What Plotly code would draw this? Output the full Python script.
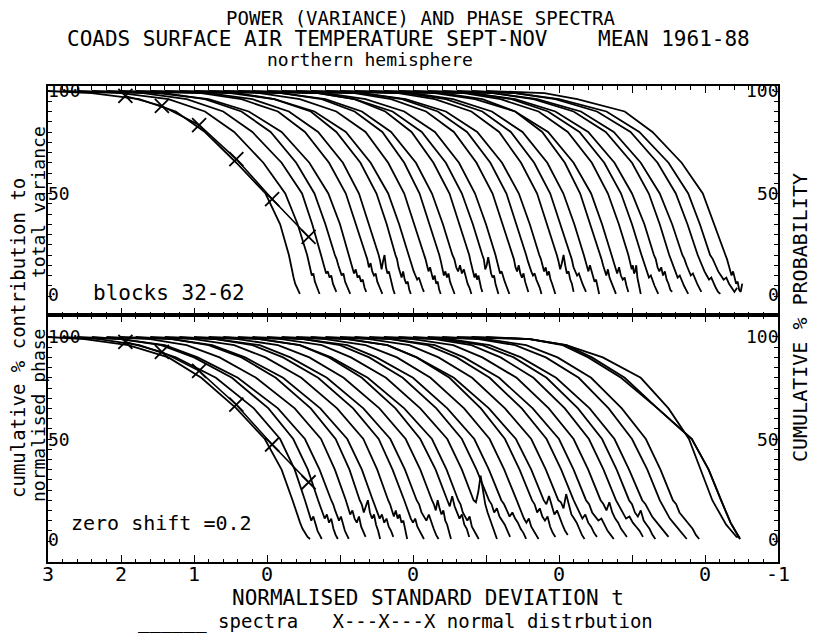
import plotly.graph_objects as go

# ---------------- data ----------------
SHIFT = 0.2                      # zero shift between successive blocks
LEVELS = [99, 96, 90, 80, 65, 50, 35, 20]   # % levels for the body of each curve

# t (own frame) where each spectrum crosses LEVELS, top panel (power)
TOP_T = [
    [2.40, 1.75, 1.25, 0.85, 0.42, 0.02, -0.18, -0.30],
    [2.20, 1.55, 1.05, 0.65, 0.25, -0.05, -0.22, -0.35],
    [2.10, 1.50, 1.00, 0.60, 0.20, -0.08, -0.22, -0.34],
    [2.00, 1.45, 0.95, 0.55, 0.20, -0.05, -0.20, -0.33],
    [2.30, 1.60, 1.05, 0.60, 0.22, -0.04, -0.20, -0.32],
    [1.90, 1.35, 0.85, 0.48, 0.15, -0.08, -0.22, -0.35],
    [2.00, 1.40, 0.90, 0.50, 0.16, -0.06, -0.20, -0.33],
    [1.80, 1.30, 0.80, 0.45, 0.12, -0.10, -0.24, -0.36],
    [2.10, 1.50, 0.95, 0.52, 0.18, -0.06, -0.21, -0.34],
    [1.90, 1.35, 0.85, 0.45, 0.14, -0.08, -0.22, -0.35],
    [1.80, 1.25, 0.80, 0.42, 0.12, -0.09, -0.23, -0.36],
    [2.00, 1.40, 0.90, 0.50, 0.16, -0.06, -0.21, -0.34],
    [1.70, 1.20, 0.78, 0.42, 0.12, -0.10, -0.24, -0.37],
    [1.90, 1.40, 0.88, 0.48, 0.15, -0.07, -0.22, -0.35],
    [2.00, 1.45, 0.92, 0.50, 0.17, -0.05, -0.20, -0.33],
    [1.80, 1.30, 0.82, 0.44, 0.13, -0.09, -0.23, -0.36],
    [1.90, 1.35, 0.86, 0.46, 0.14, -0.08, -0.22, -0.35],
    [2.10, 1.50, 0.95, 0.52, 0.18, -0.05, -0.20, -0.33],
    [1.80, 1.30, 0.80, 0.42, 0.12, -0.10, -0.24, -0.37],
    [1.90, 1.35, 0.85, 0.46, 0.14, -0.08, -0.22, -0.35],
    [2.00, 1.45, 0.92, 0.50, 0.16, -0.06, -0.21, -0.34],
    [1.80, 1.25, 0.80, 0.43, 0.12, -0.09, -0.23, -0.36],
    [2.10, 1.55, 1.00, 0.55, 0.20, -0.04, -0.19, -0.32],
    [1.90, 1.40, 0.88, 0.48, 0.15, -0.07, -0.22, -0.35],
    [2.00, 1.45, 0.95, 0.52, 0.18, -0.05, -0.20, -0.33],
    [2.20, 1.60, 1.05, 0.60, 0.24, 0.00, -0.17, -0.30],
    [2.10, 1.55, 1.00, 0.56, 0.20, -0.03, -0.18, -0.31],
    [2.30, 1.70, 1.10, 0.65, 0.28, 0.02, -0.15, -0.29],
    [2.20, 1.65, 1.08, 0.62, 0.25, 0.00, -0.16, -0.30],
    [2.40, 1.80, 1.15, 0.70, 0.30, 0.03, -0.13, -0.27],
    [2.20, 1.75, 1.10, 0.72, 0.32, 0.03, -0.12, -0.28],
]
TOP_END = [-0.45, -0.52, -0.55, -0.54, -0.56, -0.58, -0.55, -0.57, -0.55, -0.58,
           -0.57, -0.60, -0.55, -0.57, -0.52, -0.58, -0.56, -0.55, -0.60, -0.57,
           -0.55, -0.58, -0.55, -0.52, -0.56, -0.55, -0.57, -0.55, -0.61, -0.64, -0.51]
TOP_TAIL = [
    [16, 12, 9, 6, 4, 2, 1],
    [17, 13, 10, 11, 7, 5, 3, 1],
    [17, 14, 11, 12, 9, 10, 6, 4, 2],
    [18, 15, 12, 10, 11, 7, 5, 3, 1],
    [17, 13, 11, 13, 9, 10, 7, 8, 4, 2],
    [18, 14, 16, 12, 10, 11, 7, 5, 3, 1],
    [17, 13, 17, 20, 14, 11, 12, 8, 6, 3, 1],
    [18, 14, 11, 9, 12, 8, 6, 7, 3, 1],
    [17, 14, 12, 10, 8, 9, 6, 4, 2],
    [18, 15, 12, 14, 11, 8, 10, 6, 7, 3, 1],
    [17, 13, 10, 12, 9, 11, 7, 5, 3, 1],
    [18, 14, 12, 15, 11, 13, 9, 6, 4, 1],
    [17, 14, 11, 9, 11, 8, 10, 6, 4, 2],
    [18, 13, 15, 19, 14, 11, 9, 10, 6, 3, 1],
    [17, 14, 11, 12, 9, 7, 5, 3, 1],
    [18, 14, 12, 15, 11, 9, 11, 7, 5, 2],
    [17, 14, 12, 10, 11, 8, 6, 4, 1],
    [18, 15, 12, 14, 10, 12, 8, 6, 3, 1],
    [17, 13, 16, 20, 15, 11, 12, 8, 6, 2],
    [18, 14, 12, 10, 11, 8, 6, 4, 2],
    [17, 14, 12, 15, 12, 9, 7, 8, 4, 1],
    [18, 15, 12, 10, 13, 9, 7, 5, 3, 1],
    [17, 13, 11, 14, 10, 8, 9, 5, 2],
    [18, 15, 13, 15, 11, 12, 15, 9, 6, 3, 1],
    [17, 14, 11, 9, 10, 7, 5, 3, 1],
    [18, 14, 12, 14, 10, 12, 8, 6, 3, 2],
    [17, 14, 11, 9, 10, 7, 5, 3, 1],
    [18, 15, 12, 10, 11, 8, 6, 4, 2],
    [17, 14, 12, 10, 8, 9, 6, 4, 2, 1],
    [18, 15, 12, 10, 8, 9, 6, 4, 2, 4],
    [18, 15, 13, 10, 12, 8, 6, 7, 3, 2, 6],
]

# bottom panel (normalised phase)
LOW_T = [
    [2.50, 1.90, 1.35, 0.90, 0.42, 0.03, -0.20, -0.35],
    [2.50, 1.95, 1.45, 0.90, 0.38, 0.02, -0.18, -0.32],
    [2.40, 1.85, 1.40, 0.88, 0.38, 0.04, -0.16, -0.30],
    [2.60, 2.00, 1.55, 1.00, 0.45, 0.08, -0.12, -0.28],
    [2.40, 1.90, 1.45, 0.95, 0.42, 0.06, -0.13, -0.28],
    [2.30, 1.80, 1.35, 0.88, 0.40, 0.06, -0.13, -0.27],
    [2.50, 1.95, 1.50, 0.98, 0.47, 0.10, -0.10, -0.25],
    [2.40, 1.85, 1.42, 0.93, 0.44, 0.08, -0.11, -0.26],
    [2.30, 1.80, 1.38, 0.90, 0.42, 0.07, -0.12, -0.28],
    [2.50, 1.90, 1.48, 0.98, 0.48, 0.11, -0.09, -0.25],
    [2.40, 1.85, 1.42, 0.95, 0.46, 0.10, -0.10, -0.26],
    [2.30, 1.75, 1.35, 0.90, 0.44, 0.10, -0.11, -0.27],
    [2.50, 1.95, 1.52, 1.02, 0.52, 0.14, -0.06, -0.22],
    [2.40, 1.85, 1.45, 0.97, 0.50, 0.13, -0.07, -0.23],
    [2.30, 1.80, 1.40, 0.94, 0.48, 0.13, -0.07, -0.24],
    [2.50, 1.90, 1.50, 1.00, 0.53, 0.16, -0.04, -0.21],
    [2.40, 1.85, 1.42, 0.96, 0.50, 0.15, -0.05, -0.22],
    [2.30, 1.75, 1.35, 0.90, 0.47, 0.14, -0.06, -0.23],
    [2.50, 1.95, 1.55, 1.04, 0.56, 0.19, -0.02, -0.19],
    [2.40, 1.85, 1.45, 0.99, 0.54, 0.18, -0.02, -0.19],
    [2.30, 1.80, 1.40, 0.95, 0.51, 0.17, -0.03, -0.20],
    [2.50, 1.90, 1.50, 1.02, 0.56, 0.20, 0.00, -0.17],
    [2.40, 1.85, 1.45, 0.98, 0.54, 0.20, 0.00, -0.17],
    [2.30, 1.80, 1.40, 0.95, 0.52, 0.19, -0.01, -0.18],
    [2.40, 1.85, 1.42, 0.97, 0.54, 0.21, 0.01, -0.16],
    [2.50, 1.95, 1.52, 1.04, 0.58, 0.24, 0.04, -0.14],
    [2.30, 1.80, 1.38, 0.93, 0.52, 0.20, -0.01, -0.18],
    [2.40, 1.85, 1.42, 0.96, 0.54, 0.21, 0.01, -0.16],
    [2.00, 1.55, 1.20, 0.75, 0.25, -0.22, -0.45, -0.62],
    [2.20, 1.70, 1.35, 0.90, 0.45, -0.02, -0.25, -0.42],
    [2.40, 1.90, 1.40, 0.88, 0.50, 0.22, 0.06, -0.10],
]
LOW_END = [-0.59, -0.55, -0.57, -0.52, -0.55, -0.55, -0.53, -0.52, -0.55, -0.55,
           -0.52, -0.57, -0.50, -0.55, -0.53, -0.55, -0.52, -0.55, -0.52, -0.55,
           -0.52, -0.55, -0.53, -0.55, -0.52, -0.50, -0.55, -0.52, -0.88, -0.68, -0.48]
LOW_TAIL = [
    [16, 12, 9, 6, 4, 2, 1],
    [17, 13, 10, 12, 8, 5, 3, 1],
    [17, 14, 11, 13, 9, 11, 6, 3, 1],
    [18, 15, 12, 10, 12, 8, 5, 3, 1],
    [17, 13, 15, 11, 9, 12, 7, 4, 2],
    [18, 14, 17, 20, 14, 11, 13, 8, 5, 1],
    [17, 14, 11, 13, 9, 11, 7, 5, 2],
    [18, 15, 12, 15, 11, 13, 9, 10, 5, 1],
    [17, 13, 11, 9, 11, 7, 5, 3, 1],
    [18, 14, 12, 10, 13, 9, 6, 3, 1],
    [18, 15, 20, 16, 13, 15, 10, 8, 4, 1],
    [17, 22, 17, 14, 11, 13, 8, 6, 2],
    [18, 14, 12, 10, 12, 7, 5, 3, 1],
    [19, 24, 32, 25, 18, 14, 11, 7, 4, 1],
    [18, 14, 16, 12, 10, 8, 5, 2],
    [18, 15, 12, 14, 11, 9, 6, 4, 1],
    [17, 14, 11, 9, 11, 7, 5, 3, 1],
    [18, 14, 16, 12, 10, 12, 7, 4, 2],
    [18, 22, 17, 13, 15, 11, 8, 5, 3],
    [19, 16, 23, 18, 13, 11, 9, 6, 3, 1],
    [17, 14, 11, 13, 9, 7, 4, 2],
    [18, 14, 12, 10, 11, 8, 5, 3, 1],
    [18, 15, 19, 14, 11, 9, 6, 4, 2],
    [17, 14, 11, 12, 9, 7, 5, 2],
    [18, 14, 12, 15, 10, 8, 6, 3, 1],
    [18, 15, 12, 10, 8, 6, 4, 2],
    [17, 14, 11, 9, 7, 5, 3, 1],
    [18, 14, 12, 10, 8, 6, 3, 1],
    [17, 14, 11, 9, 7, 5, 3, 1],
    [17, 14, 12, 9, 7, 5, 3, 1],
    [17, 14, 11, 8, 6, 4, 2, 2],
]

NORMAL_T = [1.94, 1.44, 0.93, 0.42, -0.07, -0.57]
NORMAL_Y = [97.6, 92.7, 83.4, 66.8, 47.3, 28.8]

X_TICKVALS = list(range(11))
X_LABEL_POS = [0, 1, 2, 3, 5, 7, 9, 10]
X_LABEL_TEXT = ['3', '2', '1', '0', '0', '0', '0', '-1']
Y_TICKVALS = list(range(0, 101, 5))

FONT = "DejaVu Sans Mono"

# ---------------- geometry (page pixels; the page body has an 8px margin) ----------------
OFF = 8
W, H = 818 - OFF, 635 - OFF
FL, FR, FT, FB = 48, 778, 86, 562      # frame edges in page pixels
PW, PH = FR - FL, FB - FT
DIV = 315                                # page row of the divider between panels


def px(x):
    return (x - FL) / PW


def py(y):
    return (FB - y) / PH


def curve(tvals, tend, tail, i):
    t = [3.0] + list(tvals)
    y = [100] + LEVELS
    t20 = tvals[-1]
    n = len(tail)
    for k, v in enumerate(tail):
        t.append(t20 + (tend - t20) * (k + 1) / n)
        y.append(v)
    x = [3.0 - tt + SHIFT * i for tt in t]
    return x, y


fig = go.Figure()
line = dict(color="black", width=1.8)
for i in range(len(TOP_T)):
    x, y = curve(TOP_T[i], TOP_END[i], TOP_TAIL[i], i)
    fig.add_trace(go.Scatter(x=x, y=y, mode="lines", line=line, xaxis="x", yaxis="y",
                             showlegend=False, hoverinfo="skip"))
for i in range(len(LOW_T)):
    x, y = curve(LOW_T[i], LOW_END[i], LOW_TAIL[i], i)
    fig.add_trace(go.Scatter(x=x, y=y, mode="lines", line=line, xaxis="x2", yaxis="y2",
                             showlegend=False, hoverinfo="skip"))

nx = [3.0 - t for t in NORMAL_T]
for ax, ay in (("x", "y"), ("x2", "y2")):
    fig.add_trace(go.Scatter(x=nx, y=NORMAL_Y, mode="lines+markers", xaxis=ax, yaxis=ay,
                             line=dict(color="black", width=1.6),
                             marker=dict(symbol="x-thin", size=14,
                                         line=dict(color="black", width=1.8)),
                             showlegend=False, hoverinfo="skip"))

split = py(DIV)
xcommon = dict(range=[0, 10], showline=True, linewidth=2, linecolor="black", mirror="ticks",
               ticks="inside", ticklen=7, tickwidth=1.3, tickcolor="black",
               tickmode="array", tickvals=X_TICKVALS, showticklabels=False,
               showgrid=False, zeroline=False,
               minor=dict(ticks="inside", ticklen=3.5, tickwidth=1, tickcolor="black",
                          tick0=0, dtick=0.2, showgrid=False))
ycommon = dict(showline=True, linewidth=2, linecolor="black", mirror="ticks",
               ticks="inside", ticklen=4, tickwidth=1, tickcolor="black",
               tickmode="array", tickvals=Y_TICKVALS, showticklabels=False,
               showgrid=False, zeroline=False)

fig.update_layout(
    width=W, height=H,
    margin=dict(l=FL - OFF, r=W - (FR - OFF), t=FT - OFF, b=H - (FB - OFF)),
    paper_bgcolor="white", plot_bgcolor="white", showlegend=False,
    xaxis=dict(xcommon, domain=[0, 1], anchor="y"),
    xaxis2=dict(xcommon, domain=[0, 1], anchor="y2", matches="x"),
    yaxis=dict(ycommon, domain=[split, 1], anchor="x", range=[-9.27, 102.44]),
    yaxis2=dict(ycommon, domain=[0, split], anchor="x2", range=[-10.29, 110.78]),
)

ann = []


def text(s, x, y, size, xanchor="center", angle=0):
    ann.append(dict(text=s, x=px(x), y=py(y), xref="paper", yref="paper", showarrow=False,
                    xanchor=xanchor, yanchor="middle", textangle=angle,
                    font=dict(family=FONT, size=size, color="black")))


NB = "\u00a0"
text("POWER (VARIANCE) AND PHASE SPECTRA", 420, 18, 19)
text("COADS SURFACE AIR TEMPERATURE SEPT-NOV" + NB * 4 + "MEAN 1961-88", 408, 39, 21)
text("northern hemisphere", 370, 60, 18)
text("NORMALISED STANDARD DEVIATION t", 428, 598, 21)
text("______ spectra" + NB * 3 + "X---X---X normal distrbution", 395, 621, 19)
text("blocks 32-62", 169, 293, 21)
text("zero shift =0.2", 161, 523, 20)
text("cumulative % contribution to", 18, 338, 19, angle=-90)
text("total variance", 38, 202, 18, angle=-90)
text("normalised phase", 38, 416, 18, angle=-90)
text("CUMULATIVE % PROBABILITY", 800, 318, 20, angle=-90)
# x tick labels (custom: the zero of every tenth block is marked)
for p, s in zip(X_LABEL_POS, X_LABEL_TEXT):
    ann.append(dict(text=s, x=p, y=py(574), xref="x2", yref="paper", showarrow=False,
                    xanchor="center", yanchor="middle",
                    font=dict(family=FONT, size=20, color="black")))
# in-frame value labels
for yy, s in ((91, "100"), (193, "50"), (294, "0"), (336, "100"), (439, "50"), (539, "0")):
    text(s, 46, yy, 18, xanchor="left")
    text(s, 781, yy, 18, xanchor="right")

fig.update_layout(annotations=ann)
fig.write_html("out.html")
